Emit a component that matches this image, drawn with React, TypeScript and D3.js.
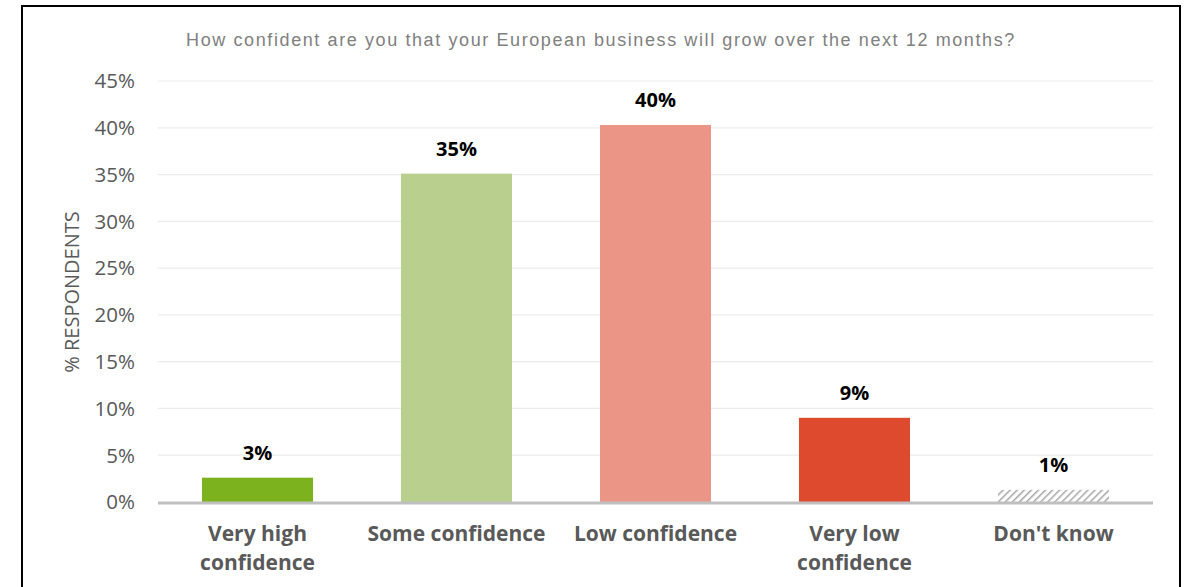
import React from "react";
import * as d3 from "d3";

const categories = ["Very high confidence", "Some confidence", "Low confidence", "Very low confidence", "Don't know"];
const categoryLines = [["Very high", "confidence"], ["Some confidence"], ["Low confidence"], ["Very low", "confidence"], ["Don't know"]];
const values = [2.6, 35.1, 40.3, 9.0, 1.3];
const valueLabels = ["3%", "35%", "40%", "9%", "1%"];
const colors = ["#7db21f", "#b9cf8d", "#ea9585", "#dd4a2e", "hatch"];
const yTicks = [0, 5, 10, 15, 20, 25, 30, 35, 40, 45];
const title = "How confident are you that your European business will grow over the next 12 months?";
const yTitle = "% RESPONDENTS";

export default function App() {
  const W = 1189, H = 587;
  const left = 158, right = 1153, top = 81, bottom = 502;
  const x = d3.scaleBand<string>().domain(categories).range([left, right]).paddingInner(0.442).paddingOuter(0.221);
  const y = d3.scaleLinear().domain([0, 45]).range([bottom, top]);
  const font = "'Open Sans', sans-serif";
  return (
    <svg width={W} height={H} style={{ position: "absolute", left: 0, top: 0 }}>
      <defs>
        <pattern id="hatch" patternUnits="userSpaceOnUse" width="5" height="5" patternTransform="rotate(45)">
          <rect width="5" height="5" fill="#ffffff" />
          <line x1="0" y1="0" x2="0" y2="5" stroke="#a6a6a6" strokeWidth="3" />
        </pattern>
      </defs>
      <rect x={0} y={0} width={W} height={H} fill="#fff" />
      <rect x={22} y={6} width={1158} height={H + 10} fill="none" stroke="#000" strokeWidth={2} />
      <text x={601} y={46} textAnchor="middle" fontFamily="'Liberation Sans', Arial, sans-serif" fontSize={18} fill="#808080" letterSpacing={1.6}>{title}</text>
      {yTicks.map(t => (
        <g key={t}>
          {t > 0 && <line x1={left} x2={right} y1={y(t)} y2={y(t)} stroke="#ececec" strokeWidth={1.2} />}
          <text x={135} y={y(t)} dy="0.36em" textAnchor="end" fontFamily={font} fontSize={20.5} fill="#595959">{t}%</text>
        </g>
      ))}
      <text transform={`translate(79,${292}) rotate(-90)`} textAnchor="middle" fontFamily={font} fontSize={20} fill="#595959">{yTitle}</text>
      {categories.map((c, i) => {
        const bx = x(c)!;
        const bw = x.bandwidth();
        return (
          <g key={c}>
            <rect x={bx} y={y(values[i])} width={bw} height={bottom - y(values[i])} fill={colors[i] === "hatch" ? "url(#hatch)" : colors[i]} />
            <text x={bx + bw / 2} y={y(values[i]) - 18} textAnchor="middle" fontFamily={font} fontWeight="bold" fontSize={20} fill="#000">{valueLabels[i]}</text>
            {categoryLines[i].map((ln, j) => (
              <text key={j} x={bx + bw / 2} y={541 + j * 29} textAnchor="middle" fontFamily={font} fontWeight="bold" fontSize={21} fill="#595959">{ln}</text>
            ))}
          </g>
        );
      })}
      <line x1={left} x2={right} y1={bottom + 1} y2={bottom + 1} stroke="#bfbfbf" strokeWidth={3} />
    </svg>
  );
}
